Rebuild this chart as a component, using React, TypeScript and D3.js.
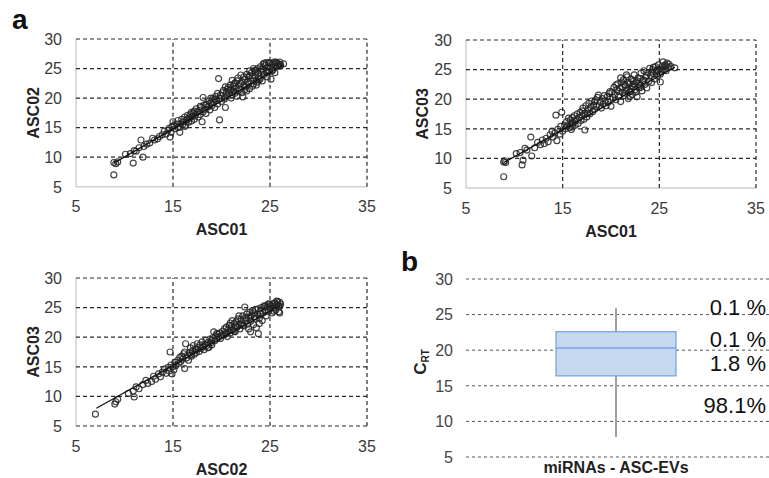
import React from "react";
import * as d3 from "d3";

// ---------- DATA ----------
const xTicks = [5, 15, 25, 35];
const yTicks = [5, 10, 15, 20, 25, 30];

// ASC01 (x) vs ASC02 (y)
const ptsA1A2: [number, number][] = [
  [8.9,7.0],[8.9,9.1],[9.1,8.9],[9.3,9.2],[10.1,10.5],[10.6,10.6],[10.9,9.0],[11.0,11.1],[11.2,11.0],[11.7,12.9],[11.9,10.0],[11.5,11.6],[12.0,11.8],[12.3,12.2],[12.6,12.4],[12.9,13.2],[13.1,12.9],[13.4,13.1],[13.6,13.5],[13.9,13.8],[14.1,14.4],[14.3,13.9],[14.5,14.6],[14.7,13.4],[14.6,14.9],[14.8,14.2],[14.9,15.2],
  [15.1,15.3],[15.2,14.8],[15.4,15.6],[15.5,16.2],[15.7,14.2],[15.7,15.1],[15.8,15.7],[15.9,16.4],[16.0,15.5],[16.1,16.0],[16.2,16.8],[16.3,15.4],[16.4,16.3],[16.5,17.1],[16.6,15.9],[16.7,16.6],[16.8,17.3],[16.9,16.1],[17.0,16.9],[17.1,17.5],[17.2,16.4],[17.3,17.1],[17.4,18.2],[17.5,17.6],[17.6,16.8],[17.7,17.9],[17.8,17.2],[17.9,18.4],[18.0,16.0],[18.1,20.1],[18.1,17.7],[18.2,18.8],[18.3,18.1],[18.4,17.4],[18.5,19.0],[18.6,18.5],[18.7,19.5],[18.8,18.0],[18.9,19.2],[19.0,18.7],[19.1,19.9],[19.2,19.3],[19.3,18.4],[19.4,20.3],[19.5,19.6],[19.6,20.8],[19.7,23.3],[19.8,16.3],[19.8,19.9],[19.9,20.5],
  [20.0,19.4],[20.1,20.9],[20.2,21.3],[20.3,20.1],[20.4,18.4],[20.5,21.0],[20.6,20.4],[20.7,21.8],[20.8,20.8],[20.9,22.2],[21.0,21.4],[21.1,20.6],[21.2,22.0],[21.3,21.1],[21.4,22.6],[21.5,21.7],[21.6,20.3],[21.7,23.4],[21.8,22.3],[21.9,21.5],[22.0,23.9],[22.1,22.8],[22.2,20.2],[22.3,22.1],[22.4,23.2],[22.5,21.9],[22.6,24.0],[22.7,22.7],[22.8,23.5],[22.9,21.6],[23.0,22.9],[23.1,24.3],[23.2,23.4],[23.3,22.4],[23.4,24.7],[23.5,23.8],[23.6,22.2],[23.7,25.0],[23.8,24.2],[23.9,23.1],[24.0,25.3],[24.1,24.6],[24.2,22.9],[24.3,25.8],[24.4,24.0],[24.5,25.5],[24.6,26.0],[24.7,23.6],[24.8,25.2],[24.9,24.5],[25.0,25.9],[25.1,23.2],[25.2,25.6],[25.3,24.8],[25.4,26.1],[25.5,24.3],[25.6,25.7],[25.7,26.0],[25.8,25.4],[25.9,25.8],[26.0,26.1],[26.1,25.6],[26.4,25.8],
  [20.3,19.8],[20.6,21.5],[21.0,20.0],[21.3,22.4],[21.7,21.2],[22.0,22.5],[22.3,23.6],[22.6,21.2],[22.9,23.8],[23.2,22.0],[23.5,24.4],[23.8,23.4],[24.1,24.9],[24.4,25.9],[24.7,24.3],[25.0,25.2],[25.3,25.9],[21.4,20.8],[22.8,22.3],[23.6,23.0],[24.6,24.7],[20.8,21.3],[19.3,19.8],[18.4,18.9],[17.2,17.8],[16.5,16.5],[15.5,15.0],
  [21.1,23.0],[21.6,22.9],[22.1,20.9],[22.4,21.4],[22.9,24.6],[23.3,25.0],[23.7,22.7],[24.0,23.3],[24.3,24.4],[24.9,26.0],[25.2,24.6],[25.6,26.1],[26.0,25.4],[20.4,21.9],[19.6,19.0],[18.9,20.0],[17.8,18.6],[16.9,17.6],[16.2,15.2],[15.0,16.0],
];
const fitA1A2: [number, number][] = [[8.9, 9.0], [26.4, 25.6]];

// ASC01 (x) vs ASC03 (y)
const ptsA1A3: [number, number][] = [
  [8.9,6.9],[8.9,9.4],[9.1,9.3],[9.0,9.6],[10.2,10.8],[10.6,11.0],[10.8,8.9],[10.9,9.7],[11.1,11.7],[11.3,11.4],[11.7,13.6],[11.8,10.4],[12.1,11.8],[12.4,12.7],[12.7,12.3],[12.9,13.1],[13.1,12.5],[13.3,13.4],[13.5,12.8],[13.7,14.0],[13.9,14.6],[14.0,13.6],[14.2,14.3],[14.3,17.3],[14.4,13.0],[14.5,14.9],[14.7,14.1],[14.8,15.4],[14.9,17.8],[15.0,14.6],
  [15.2,15.6],[15.3,15.0],[15.4,16.2],[15.5,15.5],[15.6,16.8],[15.7,15.2],[15.8,16.5],[15.9,14.9],[16.0,16.9],[16.1,16.0],[16.2,17.2],[16.3,15.6],[16.4,16.6],[16.5,17.5],[16.6,15.9],[16.7,16.9],[16.8,17.8],[16.9,16.4],[17.0,17.3],[17.1,18.5],[17.2,16.6],[17.3,14.8],[17.3,17.6],[17.4,18.9],[17.5,17.0],[17.6,18.2],[17.7,19.3],[17.8,17.5],[17.9,18.6],[18.0,19.7],[18.1,17.9],[18.2,19.0],[18.3,18.3],[18.4,19.9],[18.5,18.8],[18.6,20.3],[18.7,20.7],[18.8,18.9],[18.9,19.6],[19.0,18.5],[19.1,20.1],[19.2,19.2],[19.3,20.6],[19.4,19.7],[19.5,18.9],[19.6,20.4],[19.7,19.5],[19.8,21.0],[19.9,20.0],[20.0,18.8],
  [20.1,21.2],[20.2,20.3],[20.3,22.0],[20.4,20.8],[20.5,19.9],[20.6,21.6],[20.7,22.6],[20.8,20.5],[20.9,21.9],[21.0,19.6],[21.1,22.9],[21.2,21.1],[21.3,23.3],[21.4,20.6],[21.5,22.3],[21.6,21.5],[21.7,23.8],[21.8,20.1],[21.9,22.6],[22.0,21.3],[22.1,23.4],[22.2,20.8],[22.3,22.0],[22.4,24.1],[22.5,21.6],[22.6,22.9],[22.7,20.4],[22.8,23.6],[22.9,21.9],[23.0,22.4],[23.1,24.4],[23.2,21.4],[23.3,23.1],[23.4,24.8],[23.5,22.5],[23.6,23.7],[23.7,21.9],[23.8,24.5],[23.9,23.0],[24.0,25.2],[24.1,24.0],[24.2,22.8],[24.3,25.0],[24.4,24.3],[24.5,23.4],[24.6,25.5],[24.7,24.7],[24.8,23.9],[24.9,25.8],[25.0,25.1],[25.1,22.9],[25.2,24.6],[25.3,25.6],[25.4,26.3],[25.5,25.0],[25.6,25.8],[25.7,24.8],[25.8,26.1],[25.9,25.4],[26.0,25.9],[26.2,25.5],[26.6,25.3],
  [21.2,22.0],[21.5,21.0],[21.8,22.8],[22.1,21.7],[22.4,22.6],[22.0,20.5],[22.7,23.1],[21.4,22.5],[21.9,21.2],[22.3,23.0],[23.4,23.2],[24.2,24.6],[24.8,24.9],[25.3,24.9],[23.0,23.5],[20.8,21.3],[16.3,16.3],[15.9,15.8],[17.6,17.6],
  [21.0,23.6],[21.6,24.1],[22.2,22.3],[22.6,21.2],[23.1,22.0],[23.7,24.0],[24.4,25.4],[25.1,24.2],[25.7,25.6],[20.5,22.4],[19.9,21.3],[18.3,19.6],[17.0,18.0],[16.0,15.3],
];
const fitA1A3: [number, number][] = [[8.9, 9.3], [26.6, 25.4]];

// ASC02 (x) vs ASC03 (y)
const ptsA2A3: [number, number][] = [
  [7.0,7.0],[9.0,8.7],[9.1,9.1],[9.3,9.5],[10.4,10.5],[10.9,10.9],[11.0,9.9],[11.2,11.6],[11.5,11.3],[11.9,12.0],[12.2,12.7],[12.4,12.2],[12.8,12.5],[13.0,13.4],[13.2,12.9],[13.5,13.8],[13.7,13.3],[13.9,14.1],[14.1,14.6],[14.3,13.9],[14.5,14.9],[14.6,14.3],[14.7,17.5],[14.8,15.3],[14.9,13.8],[15.0,15.0],[15.1,14.5],[15.2,15.8],[15.3,15.2],
  [15.5,16.1],[15.6,15.6],[15.7,16.6],[15.8,15.9],[15.9,16.8],[16.0,16.3],[16.1,17.2],[16.2,14.7],[16.2,17.5],[16.3,18.9],[16.4,16.5],[16.5,17.0],[16.6,16.1],[16.7,17.4],[16.8,18.2],[16.9,16.8],[17.0,17.7],[17.1,18.6],[17.2,17.1],[17.3,18.0],[17.4,17.4],[17.5,18.9],[17.6,18.3],[17.7,17.6],[17.8,18.7],[17.9,18.1],[18.0,19.2],[18.1,18.4],[18.2,17.9],[18.3,18.8],[18.4,19.5],[18.5,18.6],[18.6,19.1],[18.7,18.3],[18.8,19.7],[18.9,19.0],[19.0,18.7],[19.1,19.9],[19.2,20.9],[19.3,19.4],[19.4,20.2],[19.5,19.7],[19.6,20.5],[19.7,20.0],[19.8,20.7],[19.9,19.8],[20.0,20.3],
  [20.1,21.0],[20.2,20.4],[20.3,21.4],[20.4,20.8],[20.5,21.7],[20.6,20.1],[20.7,21.3],[20.8,22.0],[20.9,20.7],[21.0,21.8],[21.1,22.8],[21.2,21.2],[21.3,22.3],[21.4,20.9],[21.5,22.6],[21.6,21.7],[21.7,23.1],[21.8,22.1],[21.9,21.4],[22.0,23.0],[22.1,22.4],[22.2,23.6],[22.3,21.9],[22.4,25.1],[22.5,22.8],[22.6,23.9],[22.7,22.2],[22.8,23.3],[22.9,24.2],[23.0,20.9],[23.0,22.7],[23.1,23.7],[23.2,24.5],[23.3,22.1],[23.4,23.5],[23.5,24.7],[23.6,21.6],[23.7,23.9],[23.8,20.6],[23.8,24.8],[23.9,23.2],[24.0,24.4],[24.1,25.0],[24.2,22.8],[24.3,24.1],[24.4,25.3],[24.5,24.6],[24.6,23.6],[24.7,25.1],[24.8,24.3],[24.9,25.6],[25.0,24.8],[25.1,25.3],[25.2,24.1],[25.3,25.7],[25.4,25.0],[25.5,25.8],[25.6,24.6],[25.7,25.5],[25.8,26.0],[25.9,25.2],[26.0,25.9],[26.0,24.1],[26.1,25.6],[25.9,24.3],[25.7,26.1],
  [20.5,20.6],[21.0,21.2],[21.5,21.9],[22.0,22.2],[22.5,23.3],[23.0,23.4],[23.5,23.2],[24.0,23.9],[24.5,25.2],[25.0,25.5],[21.8,23.6],[22.8,21.4],[17.4,17.9],[18.6,18.2],[19.5,20.6],
  [21.3,21.0],[22.2,22.0],[23.3,24.1],[23.9,22.3],[24.8,25.6],[25.4,24.4],[26.0,25.2],[20.9,22.4],[19.0,19.4],[16.8,17.0],
];
const fitA2A3: [number, number][] = [[7.1, 8.0], [26.1, 25.4]];

// Box plot (panel b)
const boxCategory = ["miRNAs - ASC-EVs"];
const boxMin = 7.8;
const boxQ1 = 16.4;
const boxMedian = 20.3;
const boxQ3 = 22.6;
const boxMax = 25.9;
const pctLabels = ["0.1 %", "0.1 %", "1.8 %", "98.1%"];
const pctLabelValues = [25.0, 20.5, 17.1, 11.2];

const FONT = "'Liberation Sans', Arial, Helvetica, sans-serif";

type ScatterProps = {
  left: number; right: number; top: number; bottom: number;
  pts: [number, number][]; fit: [number, number][];
  xLabel: string; yLabel: string; bottomDashed?: boolean; yTitleX: number;
};

function Scatter({ left, right, top, bottom, pts, fit, xLabel, yLabel, bottomDashed, yTitleX }: ScatterProps) {
  const x = d3.scaleLinear().domain([5, 35]).range([left, right]);
  const y = d3.scaleLinear().domain([5, 30]).range([bottom, top]);
  const line = d3.line<[number, number]>().x(d => x(d[0])).y(d => y(d[1]));
  const gridStroke = "#2a2a2a";
  const dash = "4,3";
  return (
    <g>
      <line x1={x(5)} x2={x(5)} y1={y(5)} y2={y(30)} stroke="#cfcfcf" strokeWidth={1.5} />
      {!bottomDashed && (
        <line x1={x(5)} x2={x(35)} y1={y(5)} y2={y(5)} stroke="#cfcfcf" strokeWidth={1.5} />
      )}
      {yTicks.filter(t => t > 5 || bottomDashed).map(t => (
        <line key={"gy" + t} x1={x(5)} x2={x(35)} y1={y(t)} y2={y(t)} stroke={gridStroke} strokeWidth={1.2} strokeDasharray={dash} />
      ))}
      {xTicks.filter(t => t > 5).map(t => (
        <line key={"gx" + t} x1={x(t)} x2={x(t)} y1={y(5)} y2={y(30)} stroke={gridStroke} strokeWidth={1.2} strokeDasharray={dash} />
      ))}
      {pts.map((p, i) => (
        <circle key={i} cx={x(p[0])} cy={y(p[1])} r={3} fill="none" stroke="#222" strokeWidth={1.15} strokeOpacity={0.85} />
      ))}
      <path d={line(fit) || ""} stroke="#111" strokeWidth={1.3} fill="none" />
      {yTicks.map(t => (
        <text key={"ty" + t} x={x(5) - 14} y={y(t) + 5.8} textAnchor="end" fontSize={16} fill="#3a3a3a" fontFamily={FONT}>{t}</text>
      ))}
      {xTicks.map(t => (
        <text key={"tx" + t} x={x(t)} y={y(5) + 25.5} textAnchor="middle" fontSize={16} fill="#3a3a3a" fontFamily={FONT}>{t}</text>
      ))}
      <text x={(left + right) / 2} y={y(5) + 48.5} textAnchor="middle" fontSize={16} fontWeight="bold" fill="#222" fontFamily={FONT}>{xLabel}</text>
      <text transform={`translate(${yTitleX},${(top + bottom) / 2}) rotate(-90)`} textAnchor="middle" fontSize={16} fontWeight="bold" fill="#222" fontFamily={FONT}>{yLabel}</text>
    </g>
  );
}

function BoxPanel() {
  const y = d3.scaleLinear().domain([5, 30]).range([457, 279]);
  const xb = d3.scaleBand().domain(boxCategory).range([466, 766]);
  const cx = (xb(boxCategory[0]) || 0) + xb.bandwidth() / 2;
  const bw = xb.bandwidth() * 0.4;
  return (
    <g>
      {yTicks.map(t => (
        <line key={"bg" + t} x1={466} x2={769} y1={y(t)} y2={y(t)} stroke="#555" strokeWidth={1} strokeDasharray="3,3" />
      ))}
      <line x1={cx} x2={cx} y1={y(boxMax)} y2={y(boxMin)} stroke="#a0a0a0" strokeWidth={2} />
      <rect x={cx - bw / 2} y={y(boxQ3)} width={bw} height={y(boxQ1) - y(boxQ3)} fill="#c6d8f0" stroke="#7aa6e2" strokeWidth={1.3} />
      <line x1={cx - bw / 2} x2={cx + bw / 2} y1={y(boxMedian)} y2={y(boxMedian)} stroke="#7aa6e2" strokeWidth={1.5} />
      {yTicks.map(t => (
        <text key={"bt" + t} x={453} y={y(t) + 5.8} textAnchor="end" fontSize={16} fill="#444" fontFamily={FONT}>{t}</text>
      ))}
      {pctLabels.map((s, i) => (
        <text key={"p" + i} x={766} y={y(pctLabelValues[i])} textAnchor="end" fontSize={22} fill="#111" fontFamily={FONT}>{s}</text>
      ))}
      <text x={cx} y={473} textAnchor="middle" fontSize={16} fontWeight="bold" fill="#222" fontFamily={FONT}>{boxCategory[0]}</text>
      <text transform="translate(426,362) rotate(-90)" textAnchor="middle" fontWeight="bold" fill="#222" fontFamily={FONT}>
        <tspan fontSize={17}>C</tspan>
        <tspan fontSize={10} dy={3}>RT</tspan>
      </text>
    </g>
  );
}

export default function App() {
  return (
    <svg width={769} height={478} style={{ position: "absolute", left: 0, top: 0, background: "#fff" }}>
      <rect x={0} y={0} width={769} height={478} fill="#fff" />
      <text x={12} y={29} fontSize={28} fontWeight="bold" fill="#111" fontFamily={FONT}>a</text>
      <text x={401} y={271} fontSize={28} fontWeight="bold" fill="#111" fontFamily={FONT}>b</text>
      <Scatter left={76} right={367} top={39} bottom={186.7} pts={ptsA1A2} fit={fitA1A2} xLabel="ASC01" yLabel="ASC02" yTitleX={39} />
      <Scatter left={466} right={756} top={40} bottom={188} pts={ptsA1A3} fit={fitA1A3} xLabel="ASC01" yLabel="ASC03" yTitleX={428} />
      <Scatter left={76} right={367} top={278} bottom={426} pts={ptsA2A3} fit={fitA2A3} xLabel="ASC02" yLabel="ASC03" bottomDashed yTitleX={38.5} />
      <BoxPanel />
    </svg>
  );
}
